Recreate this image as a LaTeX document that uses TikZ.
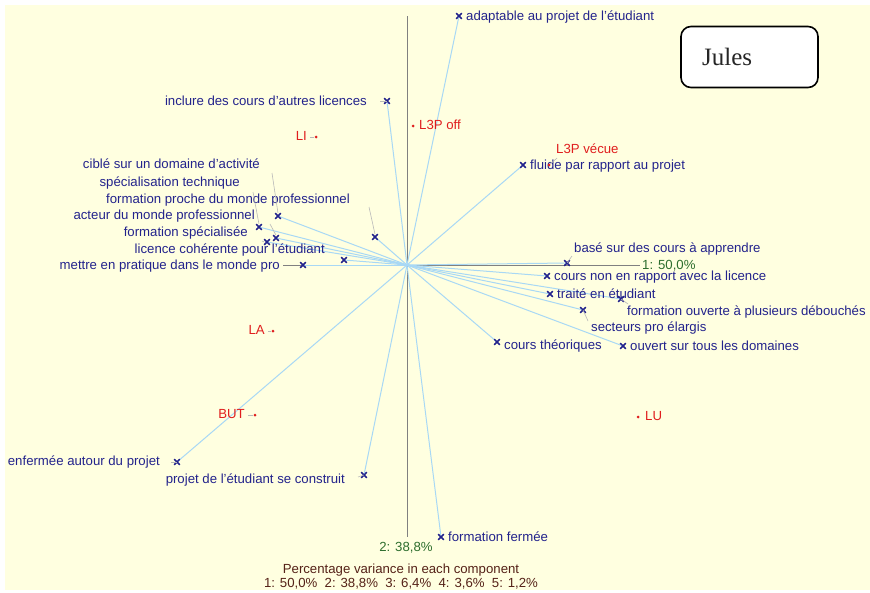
\documentclass[tikz,border=0pt]{standalone}
\usepackage{fontspec}
\setmainfont{Liberation Sans}
\newfontfamily\titlefont{Liberation Serif}
\usetikzlibrary{shapes.misc}
\definecolor{paper}{HTML}{FFFFE0}
\definecolor{navy}{HTML}{23238C}
\definecolor{catred}{HTML}{E01E1E}
\definecolor{raycol}{HTML}{A8D8F5}
\definecolor{axgreen}{HTML}{2E6E2E}
\definecolor{maroon}{HTML}{552218}
\tikzset{
  axis/.style={draw=gray, line width=0.8pt},
  ray/.style={draw=raycol, line width=1pt},
  leader/.style={draw=gray!55, line width=0.6pt},
  mk/.style={cross out, draw=navy, line width=1.1pt, minimum size=4.5pt, inner sep=0pt},
  catdot/.style={circle, fill=catred, minimum size=3pt, inner sep=0pt},
  txt/.style={inner sep=0pt, font=\fontsize{13.2}{14}\selectfont, text height=9.2pt, text depth=2.6pt},
  vlab/.style={txt, text=navy},
  clab/.style={txt, text=catred},
  axlab/.style={txt, text=axgreen},
  note/.style={txt, text=maroon},
}
\begin{document}
\begin{tikzpicture}[x=1pt,y=-1pt]
\useasboundingbox (0,0) rectangle (870,592);
\fill[paper] (5,5) rectangle (870,590);

% axes
\coordinate (O) at (407,265);
\coordinate (ytop) at (407,16);
\coordinate (ybot) at (407,537);
\coordinate (xleft) at (283,265);
\coordinate (xright) at (640,265);
\draw[axis] (ytop) -- (ybot);
\draw[axis] (xleft) -- (xright);

% variable markers
\node[mk] (m1) at (459,16) {};
\node[mk] (m2) at (387,101) {};
\node[mk] (m3) at (523,165) {};
\node[mk] (m4) at (567,263) {};
\node[mk] (m5) at (547,276) {};
\node[mk] (m6) at (550,294) {};
\node[mk] (m7) at (621,299) {};
\node[mk] (m8) at (583,310) {};
\node[mk] (m9) at (497,342) {};
\node[mk] (m10) at (623,346) {};
\node[mk] (m11) at (441,537) {};
\node[mk] (m12) at (364,475) {};
\node[mk] (m13) at (177,462) {};
\node[mk] (m14) at (303,265) {};
\node[mk] (m15) at (344,260) {};
\node[mk] (m16) at (278,216) {};
\node[mk] (m17) at (259,227) {};
\node[mk] (m18) at (276,238) {};
\node[mk] (m19) at (375,237) {};
\node[mk] (m20) at (267,242) {};

% rays from the origin
\foreach \m in {m1,m2,m3,m4,m5,m6,m7,m8,m9,m10,m11,m12,m13,m14,m15,m16,m17,m18,m19,m20}
  \draw[ray] (O) -- (\m.center);
% markers again, above the rays
\foreach \m in {m1,m2,m3,m4,m5,m6,m7,m8,m9,m10,m11,m12,m13,m14,m15,m16,m17,m18,m19,m20}
  \node[mk] at (\m.center) {};

% variable labels
\node[vlab, anchor=west] (l1) at (466,17) {adaptable au projet de l'étudiant};
\node[vlab, anchor=east] (l2) at (367,102) {inclure des cours d'autres licences};
\node[vlab, anchor=west] (l3) at (530,166) {fluide par rapport au projet};
\node[vlab, anchor=west] (l4) at (574,249) {basé sur des cours à apprendre};
\node[vlab, anchor=west] (l5) at (554,277) {cours non en rapport avec la licence};
\node[vlab, anchor=west] (l6) at (557,295) {traité en étudiant};
\node[vlab, anchor=west] (l7) at (627,312) {formation ouverte à plusieurs débouchés};
\node[vlab, anchor=west] (l8) at (591,328) {secteurs pro élargis};
\node[vlab, anchor=west] (l9) at (504,346) {cours théoriques};
\node[vlab, anchor=west] (l10) at (630,347) {ouvert sur tous les domaines};
\node[vlab, anchor=west] (l11) at (448,538) {formation fermée};
\node[vlab, anchor=east] (l12) at (345,480) {projet de l'étudiant se construit};
\node[vlab, anchor=east] (l13) at (160,462) {enfermée autour du projet};
\node[vlab, anchor=east] (l14) at (280,266) {mettre en pratique dans le monde pro};
\node[vlab, anchor=east] (l15) at (325,250) {licence cohérente pour l'étudiant};
\node[vlab, anchor=east] (l16) at (260,165) {ciblé sur un domaine d'activité};
\node[vlab, anchor=east] (l17) at (240,183) {spécialisation technique};
\node[vlab, anchor=east] (l18) at (255,216) {acteur du monde professionnel};
\node[vlab, anchor=east] (l19) at (350,200) {formation proche du monde professionnel};
\node[vlab, anchor=east] (l20) at (248,233) {formation spécialisée};

% leader lines from labels to their markers
\coordinate (k4) at (572,256);
\coordinate (k7) at (628,304);
\coordinate (k8) at (588,321);
\coordinate (k2) at (380,101);
\coordinate (k12) at (358,477);
\coordinate (k13) at (171,462);
\coordinate (k16) at (272,173);
\coordinate (k17) at (253,192);
\coordinate (k18) at (270,224);
\coordinate (k19) at (369,207);
\coordinate (k20) at (262,241);
\draw[leader] (k4) -- (m4.center);
\draw[leader] (k7) -- (m7.center);
\draw[leader] (k8) -- (m8.center);
\draw[leader] (k2) -- (m2.center);
\draw[leader] (k12) -- (m12.center);
\draw[leader] (k13) -- (m13.center);
\draw[leader] (k16) -- (m16.north);
\draw[leader] (k17) -- (m17.north);
\draw[leader] (k18) -- (m18.north);
\draw[leader] (k19) -- (m19.north);
\draw[leader] (k20) -- (m20.west);

% category points
\node[catdot] (LI) at (316,137) {};
\node[catdot] (L3Poff) at (413,126) {};
\node[catdot] (L3Pvec) at (549,165) {};
\node[catdot] (LA) at (273,331) {};
\node[catdot] (BUT) at (255,415) {};
\node[catdot] (LU) at (638,417) {};

\node[clab, anchor=east] (tLI) at (307,137) {LI};
\node[clab, anchor=west] (tL3Poff) at (419,126) {L3P off};
\node[clab, anchor=west] (tL3Pvec) at (556,150) {L3P vécue};
\node[clab, anchor=east] (tLA) at (265,331) {LA};
\node[clab, anchor=east] (tBUT) at (245,415) {BUT};
\node[clab, anchor=west] (tLU) at (645,417) {LU};

\draw[leader] ([xshift=3pt]tLI.east) -- (LI);
\draw[leader] ([xshift=3pt]tLA.east) -- (LA);
\draw[leader] ([xshift=3pt]tBUT.east) -- (BUT);
\draw[leader] ([shift={(1pt,-2pt)}]tL3Pvec.south west) -- (L3Pvec);

% axis names
\node[axlab, anchor=west, text depth=1pt] (ax1) at (642,265.5) {1: 50,0\%};
\node[axlab] (ax2) at (406,548) {2: 38,8\%};

% variance summary
\node[note] (n1) at (401,570) {Percentage variance in each component};
\node[note] (n2) at (401,584) {1: 50,0\%\ \ 2: 38,8\%\ \ 3: 6,4\%\ \ 4: 3,6\%\ \ 5: 1,2\%};

% title box
\node[draw=black, line width=1.6pt, rounded corners=10pt, fill=white,
      minimum width=137pt, minimum height=61pt, inner sep=0pt] (title) at (749.5,57) {};
\node[anchor=west, inner sep=0pt, text=black!85, font=\titlefont\fontsize{25}{28}\selectfont] (tname) at (702,57) {Jules};
\end{tikzpicture}
\end{document}
